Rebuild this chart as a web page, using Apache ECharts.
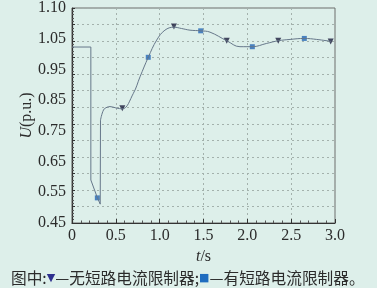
<!DOCTYPE html>
<html>
<head>
<meta charset="utf-8">
<style>
html,body{margin:0;padding:0;background:#ddefea;}
#c{width:377px;height:288px;}
</style>
<script src="https://cdn.jsdelivr.net/npm/echarts@6/dist/echarts.min.js"></script>
</head>
<body>
<div id="c"></div>
<script>
// time (s) and voltage (p.u.) of the curve, fault part (straight segments)
var tFault = [0, 0.215, 0.215, 0.29, 0.322, 0.325];
var vFault = [0.982, 0.982, 0.58, 0.526, 0.507, 0.761];
// recovery part (smooth)
var tRec = [0.325, 0.36, 0.40, 0.433, 0.50, 0.574, 0.70, 0.776, 0.87, 0.966, 1.06, 1.163, 1.25, 1.346, 1.468, 1.574, 1.765, 1.916, 2.057, 2.221, 2.353, 2.487, 2.65, 2.791, 2.955];
var vRec = [0.761, 0.792, 0.800, 0.802, 0.798, 0.795, 0.842, 0.892, 0.951, 1.003, 1.033, 1.042, 1.038, 1.033, 1.031, 1.027, 1.001, 0.983, 0.983, 0.993, 1.001, 1.005, 1.008, 1.005, 0.999];
// markers
var tTri = [0.574, 1.163, 1.765, 2.353, 2.951];
var vTri = [0.797, 1.044, 1.001, 1.001, 0.999];
var tSq = [0.289, 0.87, 1.468, 2.057, 2.65];
var vSq = [0.526, 0.951, 1.031, 0.983, 1.008];
// tick labels
var xTickLabels = ['0', '0.5', '1.0', '1.5', '2.0', '2.5', '3.0'];
var yTickLabels = ['0.45', '0.55', '0.65', '0.75', '0.85', '0.95', '1.05', '1.10'];

function zip(a, b) { return a.map(function (x, i) { return [x, b[i]]; }); }

var serif = 'Liberation Serif';
var lineColor = '#66778a';
var chart = echarts.init(document.getElementById('c'));
chart.setOption({
  backgroundColor: '#ddefea',
  animation: false,
  title: {
    left: 6, top: 265,
    text: '{a|图中:}{tri|▼}{a|—无短路电流限制器;}{sq|■}{a|—有短路电流限制器。}',
    textStyle: {
      fontWeight: 'normal',
      rich: {
        a: { fontSize: 15.7, fontWeight: 'normal', fontFamily: 'Noto Sans CJK SC', color: '#2b2b2b' },
        tri: { fontSize: 11, fontWeight: 'normal', color: '#2d2f8e', fontFamily: 'DejaVu Sans' },
        sq: { fontSize: 11, fontWeight: 'normal', color: '#1f6cbf', fontFamily: 'DejaVu Sans' }
      }
    }
  },
  grid: { left: 72, right: 42, top: 8, bottom: 65, show: true, borderColor: '#6d6d6d', borderWidth: 1, backgroundColor: '#ddefea' },
  xAxis: {
    type: 'value', min: 0, max: 3, interval: 0.5,
    name: '{i|t}/s', nameLocation: 'middle', nameGap: 19,
    nameTextStyle: { fontFamily: serif, fontSize: 16, color: '#2b2b2b', rich: { i: { fontStyle: 'italic', fontFamily: serif, fontSize: 16 } } },
    axisLine: { lineStyle: { color: '#333', width: 1.2 } },
    axisTick: { inside: true, length: 4, lineStyle: { color: '#333' } },
    minorTick: { show: true, splitNumber: 5, length: 2.5, lineStyle: { color: '#555' } },
    axisLabel: { fontFamily: serif, fontSize: 16, color: '#2b2b2b', margin: 5,
      formatter: function (v) { return xTickLabels[Math.round(v / 0.5)]; } },
    splitLine: { show: true, lineStyle: { type: [2, 3], color: '#a3b1ac', width: 1 } }
  },
  yAxis: [{
    type: 'value', min: 0.45, max: 1.10, interval: 0.05,
    axisLine: { lineStyle: { color: '#333', width: 1.2 } },
    axisTick: { inside: true, length: 3, lineStyle: { color: '#333' } },
    minorTick: { show: true, splitNumber: 5, length: 2, lineStyle: { color: '#555' } },
    axisLabel: { show: false },
    splitLine: { show: true, lineStyle: { type: [2, 3], color: '#a3b1ac', width: 1 } }
  }, {
    type: 'value', min: 0, max: 7, interval: 1, position: 'left',
    name: '{i|U}(p.u.)', nameLocation: 'middle', nameGap: 37, nameRotate: 90, nameMoveOverlap: false,
    nameTextStyle: { fontFamily: serif, fontSize: 16, color: '#2b2b2b', rich: { i: { fontStyle: 'italic', fontFamily: serif, fontSize: 16 } } },
    axisLine: { show: false }, axisTick: { show: false }, splitLine: { show: false },
    axisLabel: { fontFamily: serif, fontSize: 16, color: '#2b2b2b', margin: 6,
      formatter: function (v) { return yTickLabels[Math.round(v)]; } }
  }],
  series: [{
    type: 'line', yAxisIndex: 0, data: zip(tFault, vFault), showSymbol: false,
    lineStyle: { color: lineColor, width: 1 }
  }, {
    type: 'line', yAxisIndex: 0, data: zip(tRec, vRec), showSymbol: false, smooth: 0.4,
    lineStyle: { color: lineColor, width: 1 }
  }, {
    name: '无短路电流限制器', type: 'scatter', yAxisIndex: 0, data: zip(tTri, vTri),
    symbol: 'triangle', symbolRotate: 180, symbolSize: 6, itemStyle: { color: '#1c1d3c' }
  }, {
    name: '有短路电流限制器', type: 'scatter', yAxisIndex: 0, data: zip(tSq, vSq),
    symbol: 'rect', symbolSize: 5, itemStyle: { color: '#2466b5' }
  }]
});
</script>
</body>
</html>
